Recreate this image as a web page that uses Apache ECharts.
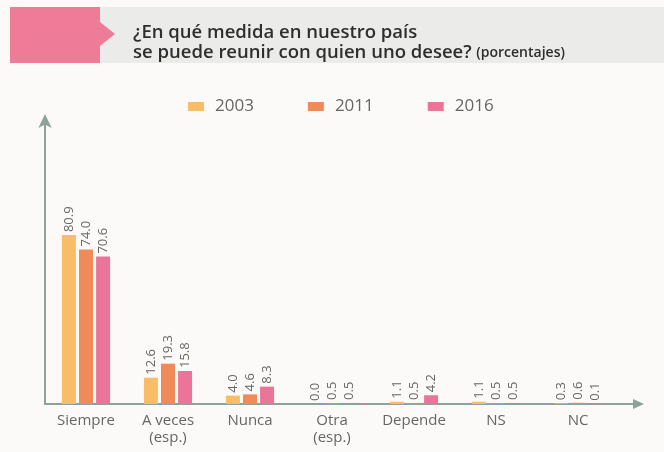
<!DOCTYPE html>
<html>
<head>
<meta charset="utf-8">
<script src="https://cdn.jsdelivr.net/npm/echarts@6/dist/echarts.min.js"></script>
<style>html,body{margin:0;padding:0;background:#fbfaf8}#c{width:664px;height:452px}</style>
</head>
<body>
<div id="c"></div>
<script>
var categories = ['Siempre', 'A veces\n(esp.)', 'Nunca', 'Otra\n(esp.)', 'Depende', 'NS', 'NC'];
var seriesNames = ['2003', '2011', '2016'];
var values2003 = [80.9, 12.6, 4.0, 0.0, 1.1, 1.1, 0.3];
var values2011 = [74.0, 19.3, 4.6, 0.5, 0.5, 0.5, 0.6];
var values2016 = [70.6, 15.8, 8.3, 0.5, 4.2, 0.5, 0.1];
var colors = ['#f9bd68', '#f08a58', '#eb7499'];

var chart = echarts.init(document.getElementById('c'));
var font = "'Open Sans', sans-serif";
var axisColor = '#8ea19b';

function mk(name, data, color) {
  return {
    name: name, type: 'bar', data: data, barWidth: 14, barGap: '22%',
    itemStyle: { color: color },
    label: {
      show: true, position: 'top', rotate: 90, align: 'left', verticalAlign: 'middle',
      distance: 3, color: '#666', fontSize: 13, fontFamily: font,
      formatter: function (p) { return p.value.toFixed(1); }
    }
  };
}

chart.setOption({
  backgroundColor: '#fbfaf8',
  animation: false,
  textStyle: { fontFamily: font },
  graphic: [
    { type: 'rect', shape: { x: 10, y: 7, width: 654, height: 56 }, style: { fill: '#ebebea' }, z: -1 },
    { type: 'polygon', shape: { points: [[10, 7], [100, 7], [100, 22], [115, 34], [100, 46], [100, 63], [10, 63]] }, style: { fill: '#ee7b98' } },
    { type: 'line', shape: { x1: 619, y1: 404, x2: 636, y2: 404 }, style: { stroke: axisColor, lineWidth: 2 } },
    { type: 'polygon', shape: { points: [[633, 399], [644, 404], [633, 409]] }, style: { fill: axisColor } }
  ],
  title: {
    left: 128, top: 18,
    text: '{a|¿En qué medida en nuestro país}\n{a|se puede reunir con quien uno desee?} {s|(porcentajes)}',
    textStyle: {
      rich: {
        a: { fontSize: 18.5, fontWeight: 600, color: '#2e2e2e', fontFamily: font, lineHeight: 20 },
        s: { fontSize: 14, fontWeight: 600, color: '#2e2e2e', fontFamily: font, lineHeight: 20 }
      }
    }
  },
  legend: {
    left: 183, top: 93, itemWidth: 16, itemHeight: 9, itemGap: 54,
    icon: 'rect',
    data: seriesNames,
    textStyle: { fontSize: 17, color: '#666', fontFamily: font, padding: [0, 0, 0, 6] }
  },
  grid: { left: 45, right: 45, top: 118, bottom: 48 },
  xAxis: {
    type: 'category', data: categories,
    axisLine: { lineStyle: { color: axisColor, width: 2 } },
    axisTick: { show: false },
    axisLabel: { interval: 0, color: '#666', fontSize: 15, fontFamily: font, lineHeight: 17, margin: 8 }
  },
  yAxis: {
    type: 'value', min: 0, max: 137,
    axisLine: { show: true, lineStyle: { color: axisColor, width: 2 }, symbol: ['none', 'arrow'], symbolSize: [10, 14], symbolOffset: [0, 4] },
    axisLabel: { show: false }, axisTick: { show: false }, splitLine: { show: false }
  },
  series: [
    mk(seriesNames[0], values2003, colors[0]),
    mk(seriesNames[1], values2011, colors[1]),
    mk(seriesNames[2], values2016, colors[2])
  ]
});
</script>
</body>
</html>
